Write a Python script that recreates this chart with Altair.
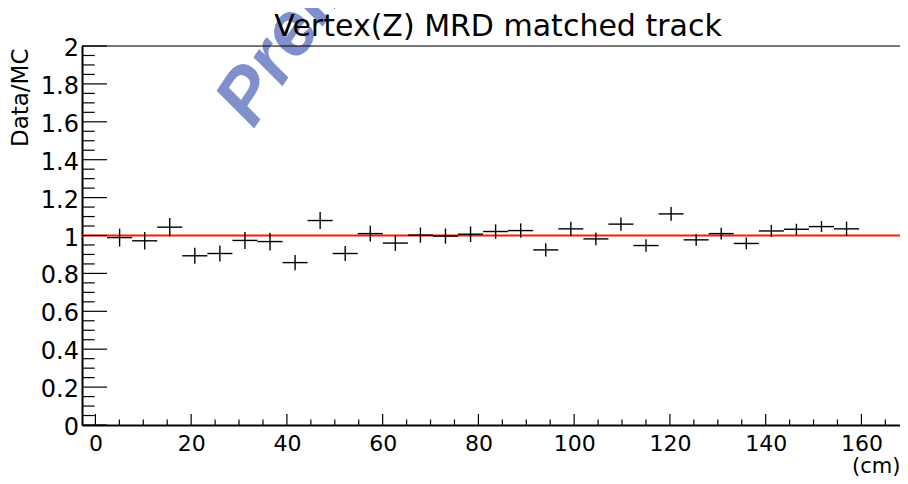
import altair as alt
import pandas as pd

# ---- data ----
x_min, x_max = -2.8, 168.06
bin_width = 5.236
first_bin = 1  # index of first filled bin (bins start at x_min)
ratio = [0.989, 0.972, 1.044, 0.893, 0.905, 0.974, 0.968, 0.857, 1.079, 0.905,
         1.010, 0.960, 1.002, 0.997, 1.007, 1.021, 1.026, 0.924, 1.035, 0.982,
         1.060, 0.947, 1.114, 0.977, 1.010, 0.958, 1.024, 1.033, 1.047, 1.035]
err = [0.047, 0.046, 0.048, 0.042, 0.042, 0.045, 0.047, 0.040, 0.045, 0.040,
       0.042, 0.041, 0.040, 0.040, 0.041, 0.038, 0.038, 0.035, 0.037, 0.034,
       0.035, 0.033, 0.036, 0.031, 0.031, 0.031, 0.032, 0.029, 0.029, 0.038]
x_major = [0, 20, 40, 60, 80, 100, 120, 140, 160]
x_minor = [5, 10, 15, 25, 30, 35, 45, 50, 55, 65, 70, 75, 85, 90, 95, 105, 110,
           115, 125, 130, 135, 145, 150, 155, 165]
y_major = [0, 0.2, 0.4, 0.6, 0.8, 1.0, 1.2, 1.4, 1.6, 1.8, 2.0]
y_labels = ["0", "0.2", "0.4", "0.6", "0.8", "1", "1.2", "1.4", "1.6", "1.8", "2"]
y_minor = [0.05, 0.1, 0.15, 0.25, 0.3, 0.35, 0.45, 0.5, 0.55, 0.65, 0.7, 0.75,
           0.85, 0.9, 0.95, 1.05, 1.1, 1.15, 1.25, 1.3, 1.35, 1.45, 1.5, 1.55,
           1.65, 1.7, 1.75, 1.85, 1.9, 1.95]
title_text = "Vertex(Z) MRD matched track"
x_title = "(cm)"
y_title = "Data/MC"
watermark = "Preliminary"
watermark_pos = [33.0, 1.56]

W, H = 818, 379
FONT = "DejaVu Sans"

rows = []
for i, (r, e) in enumerate(zip(ratio, err)):
    lo = x_min + (first_bin + i) * bin_width
    rows.append({"lo": lo, "hi": lo + bin_width, "c": lo + bin_width / 2,
                 "r": r, "rlo": r - e, "rhi": r + e})
df = pd.DataFrame(rows)

xscale = alt.Scale(domain=[x_min, x_max], nice=False, zero=False)
yscale = alt.Scale(domain=[0, 2], nice=False, zero=False)

xaxis = alt.Axis(values=x_major, ticks=False, grid=False, domain=True,
                 domainColor="black", domainWidth=2, labelFontSize=22,
                 labelPadding=8, labelFont=FONT, labelColor="black",
                 labelFlush=False, labelOverlap=False,
                 title=x_title, titleFont=FONT, titleFontSize=21,
                 titleFontWeight="normal", titleColor="black",
                 titleAnchor="end", titleAlign="right", titleBaseline="top",
                 titleX=W, titleY=30)
yaxis = alt.Axis(values=y_major, ticks=False, grid=False, labels=False,
                 domain=True, domainColor="black", domainWidth=2,
                 title=y_title, titleFont=FONT, titleFontSize=23,
                 titleFontWeight="normal", titleColor="black",
                 titleAngle=270, titleAlign="right", titleBaseline="top",
                 titleX=-73, titleY=2)

wm = alt.Chart(pd.DataFrame({"x": [watermark_pos[0]], "y": [watermark_pos[1]],
                             "t": [watermark]})).mark_text(
    angle=304, fontSize=76, font="Liberation Sans", fontWeight="bold",
    fontStyle="italic", color="#8090CC", align="left", baseline="alphabetic"
).encode(x=alt.X("x:Q", scale=xscale, axis=xaxis),
         y=alt.Y("y:Q", scale=yscale, axis=yaxis), text="t:N")

title = alt.Chart(pd.DataFrame({"t": [title_text]})).mark_text(
    font=FONT, fontSize=30, color="black", align="center",
    baseline="alphabetic").encode(x=alt.value(416), y=alt.value(-10),
                                  text="t:N")

ylab = alt.Chart(pd.DataFrame({"t": y_major, "s": y_labels})).mark_text(
    font=FONT, fontSize=24, color="black", align="right", baseline="middle",
    dy=3).encode(y=alt.Y("t:Q", scale=yscale), x=alt.value(-3), text="s:N")

redline = alt.Chart(pd.DataFrame({"v": [1.0]})).mark_rule(
    color="#ff1a00", strokeWidth=2).encode(y=alt.Y("v:Q", scale=yscale))
topline = alt.Chart(pd.DataFrame({"v": [2.0]})).mark_rule(
    color="black", strokeWidth=1.2).encode(y=alt.Y("v:Q", scale=yscale))

hbar = alt.Chart(df).mark_rule(color="black", strokeWidth=1.4).encode(
    x=alt.X("lo:Q", scale=xscale), x2="hi:Q", y=alt.Y("r:Q", scale=yscale))
vbar = alt.Chart(df).mark_rule(color="black", strokeWidth=1.4).encode(
    x=alt.X("c:Q", scale=xscale), y=alt.Y("rlo:Q", scale=yscale), y2="rhi:Q")

xmaj = alt.Chart(pd.DataFrame({"t": x_major})).mark_rule(
    color="black", strokeWidth=1.2).encode(
    x=alt.X("t:Q", scale=xscale), y=alt.value(H), y2=alt.value(H - 11))
xmin_ = alt.Chart(pd.DataFrame({"t": x_minor})).mark_rule(
    color="black", strokeWidth=1.2).encode(
    x=alt.X("t:Q", scale=xscale), y=alt.value(H), y2=alt.value(H - 5.5))
ymaj = alt.Chart(pd.DataFrame({"t": y_major})).mark_rule(
    color="black", strokeWidth=1.2).encode(
    y=alt.Y("t:Q", scale=yscale), x=alt.value(0), x2=alt.value(25))
ymin_ = alt.Chart(pd.DataFrame({"t": y_minor})).mark_rule(
    color="black", strokeWidth=1.2).encode(
    y=alt.Y("t:Q", scale=yscale), x=alt.value(0), x2=alt.value(12.7))

chart = alt.layer(wm, title, ylab, redline, topline, hbar, vbar, xmaj, xmin_,
                  ymaj, ymin_).properties(
    width=W, height=H,
    autosize=alt.AutoSizeParams(type="none"),
    padding={"left": 74, "top": 38, "right": 0, "bottom": 51},
).configure_view(stroke=None).configure(background="white").configure_axis(
    labelOverlap=False, labelFlush=False, grid=False)

chart.save("out.html", embed_options={"renderer": "svg", "actions": False})
